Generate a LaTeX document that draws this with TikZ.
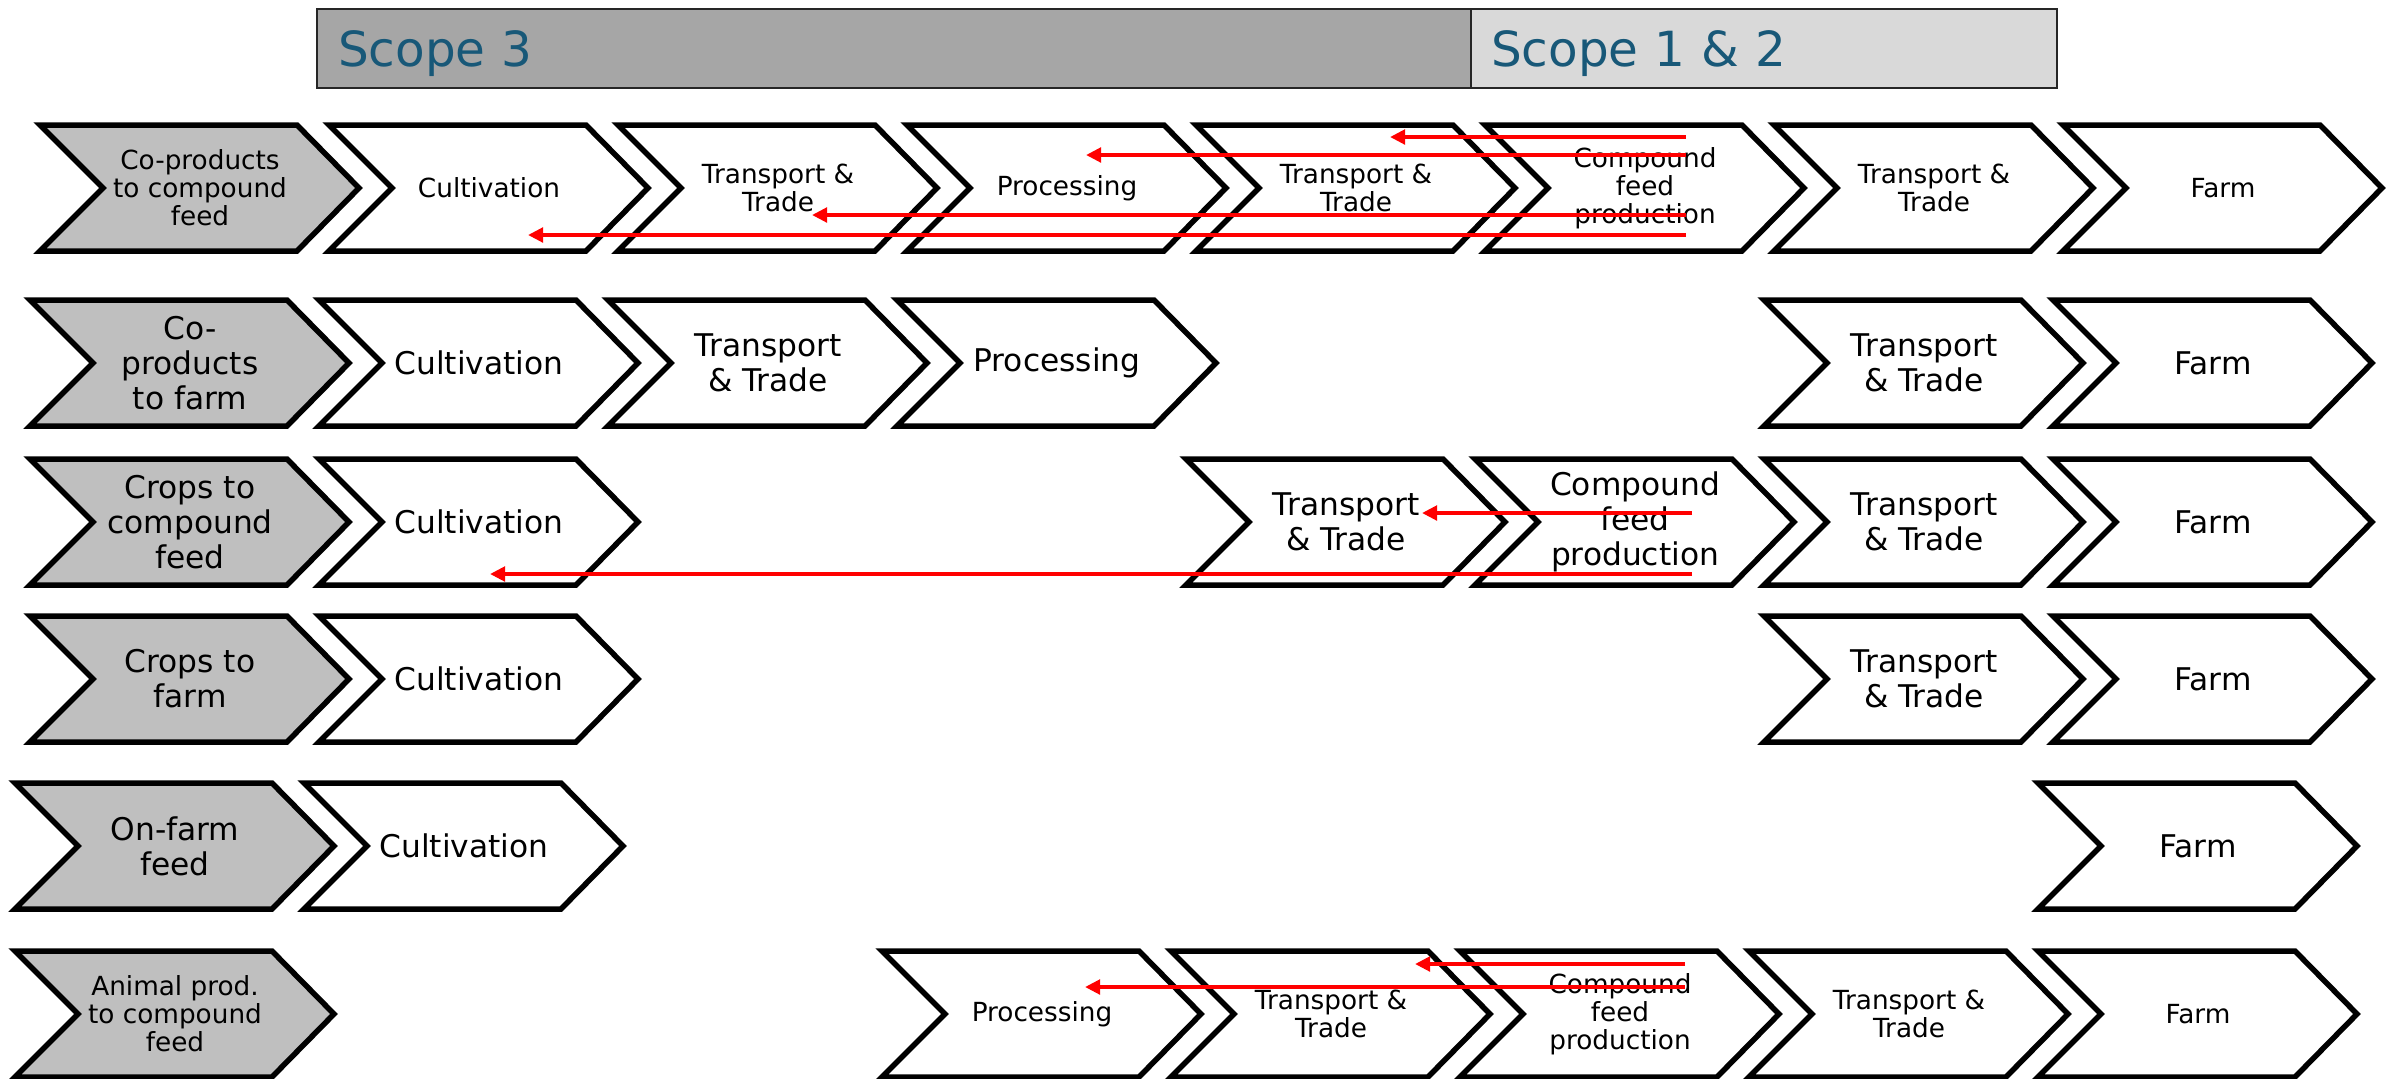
\documentclass[tikz,border=0pt]{standalone}
\usepackage{fontspec}
\setmainfont{DejaVu Sans}
\usetikzlibrary{arrows.meta,backgrounds}
\definecolor{gfill}{RGB}{191,191,191}
\definecolor{sthree}{RGB}{166,166,166}
\definecolor{sone}{RGB}{217,217,217}
\definecolor{scopeblue}{RGB}{24,88,120}
% 1 px of the reference = 0.5bp
\tikzset{
  chevline/.style={draw=black, line width=2.75bp, line join=miter},
  chevtext/.style={inner sep=0pt, align=center, text=black},
  fsmall/.style={font=\fontsize{13.2}{14.1}\selectfont},
  flarge/.style={font=\fontsize{15.7}{17.6}\selectfont},
  scopebox/.style={draw=black!85, line width=1bp, anchor=north west, minimum height=39.5bp,
    inner ysep=0pt, text height=25bp, text depth=7.5bp, align=left,
    text=scopeblue, font=\fontsize{24.3}{28}\selectfont},
  redarr/.style={draw=red, line width=2bp, -{Triangle[length=7.5bp,width=7.2bp]}},
}
% #1 name, #2 left, #3 top, #4 fill, #5 font style, #6 text
\newcommand\chevron[6]{%
  \node[chevtext,#5] (#1) at ({#2+163},{#3+66}) {#6};
  \begin{pgfonlayer}{background}
    \filldraw[chevline,fill=#4] ({#2+3},{#3+3}) -- ({#2+260},{#3+3}) -- ({#2+322},{#3+66})
      -- ({#2+260},{#3+129}) -- ({#2+3},{#3+129}) -- ({#2+66},{#3+66}) -- cycle;
  \end{pgfonlayer}
}
\begin{document}
\begin{tikzpicture}[x=0.5bp, y=-0.5bp]
\begin{pgfonlayer}{background}
  \fill[white] (0,0) rectangle (2386,1078);
\end{pgfonlayer}

% header
\node[scopebox, fill=sthree, minimum width=577bp, text width=556bp, inner xsep=10.5bp] (s3) at (316,8) {Scope 3};
\node[scopebox, fill=sone, minimum width=293bp, text width=273bp, inner xsep=10bp] (s12) at (1470,8) {Scope 1 \& 2};

% row 1
\chevron{a1}{37}{122}{gfill}{fsmall}{Co-products\\to compound\\feed}
\chevron{a2}{326}{122}{white}{fsmall}{Cultivation}
\chevron{a3}{615}{122}{white}{fsmall}{Transport \&\\Trade}
\chevron{a4}{904}{122}{white}{fsmall}{Processing}
\chevron{a5}{1193}{122}{white}{fsmall}{Transport \&\\Trade}
\chevron{a6}{1482}{122}{white}{fsmall}{Compound\\feed\\production}
\chevron{a7}{1771}{122}{white}{fsmall}{Transport \&\\Trade}
\chevron{a8}{2060}{122}{white}{fsmall}{Farm}

% row 2
\chevron{b1}{27}{297}{gfill}{flarge}{Co-\\products\\to farm}
\chevron{b2}{316}{297}{white}{flarge}{Cultivation}
\chevron{b3}{605}{297}{white}{flarge}{Transport\\\& Trade}
\chevron{b4}{894}{297}{white}{flarge}{Processing}
\chevron{b7}{1761}{297}{white}{flarge}{Transport\\\& Trade}
\chevron{b8}{2050}{297}{white}{flarge}{Farm}

% row 3
\chevron{c1}{27}{456}{gfill}{flarge}{Crops to\\compound\\feed}
\chevron{c2}{316}{456}{white}{flarge}{Cultivation}
\chevron{c5}{1183}{456}{white}{flarge}{Transport\\\& Trade}
\chevron{c6}{1472}{456}{white}{flarge}{Compound\\feed\\production}
\chevron{c7}{1761}{456}{white}{flarge}{Transport\\\& Trade}
\chevron{c8}{2050}{456}{white}{flarge}{Farm}

% row 4
\chevron{d1}{27}{613}{gfill}{flarge}{Crops to\\farm}
\chevron{d2}{316}{613}{white}{flarge}{Cultivation}
\chevron{d7}{1761}{613}{white}{flarge}{Transport\\\& Trade}
\chevron{d8}{2050}{613}{white}{flarge}{Farm}

% row 5
\chevron{e1}{12}{780}{gfill}{flarge}{On-farm\\feed}
\chevron{e2}{301}{780}{white}{flarge}{Cultivation}
\chevron{e8}{2035}{780}{white}{flarge}{Farm}

% row 6
\chevron{f1}{12}{948}{gfill}{fsmall}{Animal prod.\\to compound\\feed}
\chevron{f4}{879}{948}{white}{fsmall}{Processing}
\chevron{f5}{1168}{948}{white}{fsmall}{Transport \&\\Trade}
\chevron{f6}{1457}{948}{white}{fsmall}{Compound\\feed\\production}
\chevron{f7}{1746}{948}{white}{fsmall}{Transport \&\\Trade}
\chevron{f8}{2035}{948}{white}{fsmall}{Farm}

% red arrows
\draw[redarr] ([shift={(41,-51)}]a6.center) -- ([shift={(34,-51)}]a5.center);
\draw[redarr] ([shift={(41,-33)}]a6.center) -- ([shift={(19,-33)}]a4.center);
\draw[redarr] ([shift={(41,27)}]a6.center) -- ([shift={(34,27)}]a3.center);
\draw[redarr] ([shift={(41,47)}]a6.center) -- ([shift={(39,47)}]a2.center);

\draw[redarr] ([shift={(57,-9)}]c6.center) -- ([shift={(76,-9)}]c5.center);
\draw[redarr] ([shift={(57,52)}]c6.center) -- ([shift={(11,52)}]c2.center);

\draw[redarr] ([shift={(65,-50)}]f6.center) -- ([shift={(84,-50)}]f5.center);
\draw[redarr] ([shift={(65,-27)}]f6.center) -- ([shift={(43,-27)}]f4.center);

\pgfresetboundingbox
\useasboundingbox (0,0) rectangle (2386,1078);
\end{tikzpicture}
\end{document}
